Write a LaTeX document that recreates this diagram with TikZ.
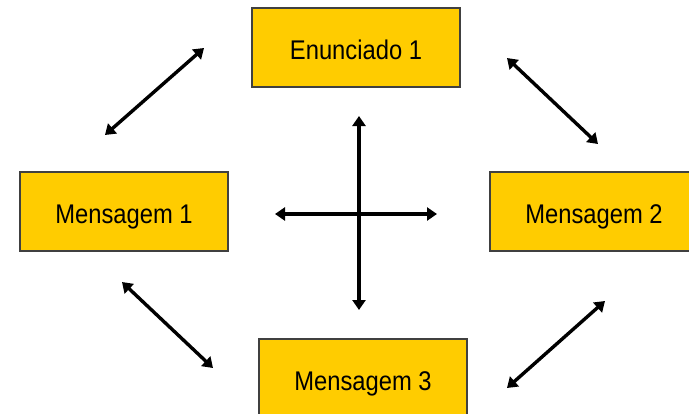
\documentclass[tikz,border=0pt]{standalone}
\usepackage{fontspec}
\setmainfont[FakeStretch=0.88]{Liberation Sans}
\usetikzlibrary{arrows.meta}
\definecolor{caixaouro}{HTML}{FFCC00}
\begin{document}
\begin{tikzpicture}[x=1pt,y=-1pt,
  caixa/.style={draw=black!75,line width=1.2pt,fill=caixaouro,
    minimum width=208pt,minimum height=79pt,inner sep=0pt,
    text height=23pt,text depth=0pt,font=\fontsize{27}{32}\selectfont},
  seta/.style={line width=3.4pt,
    {Triangle[length=10pt,width=13pt]}-{Triangle[length=10pt,width=13pt]}}]

  \useasboundingbox (0,0) rectangle (689,413);
  \clip (0,0) rectangle (689,413);

  % caixas
  \node[caixa] (enun) at (356,47.5) {Enunciado 1};
  \node[caixa] (msg1) at (124,211.5) {Mensagem 1};
  \node[caixa] (msg2) at (594,211.5) {Mensagem 2};
  \node[caixa] (msg3) at (363,378.5) {Mensagem 3};

  % pontas das setas
  \coordinate (ul1) at (105,135); \coordinate (ul2) at (204,48);
  \coordinate (ur1) at (507,58);  \coordinate (ur2) at (598,144);
  \coordinate (ll1) at (122,282); \coordinate (ll2) at (213,368);
  \coordinate (lr1) at (507,388); \coordinate (lr2) at (605,301);
  \coordinate (cima) at (359,116);  \coordinate (baixo) at (359,310);
  \coordinate (esq) at (275,214);   \coordinate (dir) at (437,214);

  % setas
  \draw[seta] (ul1) -- (ul2);
  \draw[seta] (ur1) -- (ur2);
  \draw[seta] (ll1) -- (ll2);
  \draw[seta] (lr1) -- (lr2);
  \draw[seta] (cima) -- (baixo);
  \draw[seta] (esq) -- (dir);

\end{tikzpicture}
\end{document}
